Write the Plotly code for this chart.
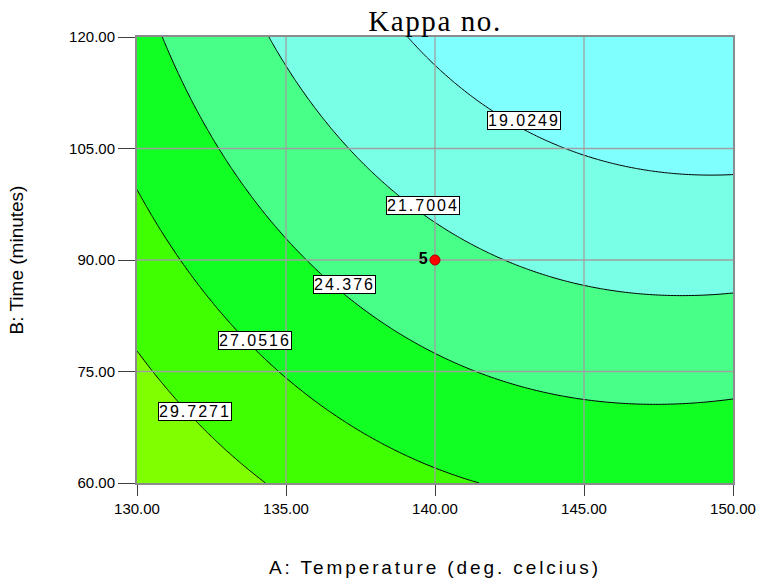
import numpy as np
import plotly.graph_objects as go

# Quadratic response-surface model for Kappa number, in coded units
#   a = (Temperature - 140) / 10,  b = (Time - 90) / 30
b0 = 22.4259
b_a = -3.6115
b_b = -4.4099
b_ab = -0.7661
b_aa = 2.1068
b_bb = 0.5902

contour_levels = [19.0249, 21.7004, 24.376, 27.0516, 29.7271]
# where each contour value is printed (temperature, time)
label_temp = [142.99, 139.61, 136.96, 133.96, 131.95]
label_time = [108.83, 97.32, 86.69, 79.22, 69.66]

design_temp = [140.0]
design_time = [90.0]
design_runs = ["5"]

x_ticks = [130, 135, 140, 145, 150]
y_ticks = [60, 75, 90, 105, 120]

band_colors = ['#80FFFF', '#78FFE6', '#48FF88', '#12FF24', '#40FF00', '#80FF00']

temp = np.linspace(x_ticks[0], x_ticks[-1], 201)
time = np.linspace(y_ticks[0], y_ticks[-1], 201)
TT, MM = np.meshgrid(temp, time)
a = (TT - 140) / 10
b = (MM - 90) / 30
kappa = b0 + b_a * a + b_b * b + b_ab * a * b + b_aa * a * a + b_bb * b * b

step = contour_levels[1] - contour_levels[0]

fig = go.Figure()
fig.add_trace(go.Contour(
    x=temp, y=time, z=kappa,
    contours=dict(start=contour_levels[0], end=contour_levels[-1], size=step, coloring='fill'),
    colorscale=[[i / (len(band_colors) - 1), c] for i, c in enumerate(band_colors)],
    line=dict(color='black', width=1),
    showscale=False,
    hoverinfo='skip',
))

# grid drawn over the filled bands
gx, gy = [], []
for t in x_ticks[1:-1]:
    gx += [t, t, None]
    gy += [y_ticks[0], y_ticks[-1], None]
for t in y_ticks[1:-1]:
    gx += [x_ticks[0], x_ticks[-1], None]
    gy += [t, t, None]
fig.add_trace(go.Scatter(x=gx, y=gy, mode='lines', line=dict(color='#A0A0A0', width=1.3),
                         hoverinfo='skip', showlegend=False))

fig.add_trace(go.Scatter(
    x=design_temp, y=design_time, mode='markers+text', text=[f'<b>{r}</b>' for r in design_runs],
    textposition='middle left',
    textfont=dict(family='Liberation Sans, Arial', size=16, color='black'),
    marker=dict(color='#FF0000', size=10, line=dict(color='#A00000', width=1)),
    showlegend=False,
))

for lv, lx, ly in zip(contour_levels, label_temp, label_time):
    fig.add_annotation(
        x=lx, y=ly, xref='x', yref='y', showarrow=False,
        text=f'<span style="letter-spacing:2px">{lv:g}</span>',
        font=dict(family='Liberation Sans, Arial', size=16, color='black'),
        bgcolor='white', bordercolor='black', borderwidth=1, borderpad=0,
    )

axis_font = dict(family='Liberation Sans, Arial', size=15, color='black')
fig.update_xaxes(
    range=[x_ticks[0], x_ticks[-1]], tickvals=x_ticks, ticktext=[f'{t:.2f}' for t in x_ticks],
    ticks='outside', ticklen=11, tickwidth=1, tickcolor='#404040', tickfont=axis_font,
    showgrid=False, zeroline=False, showline=True, linecolor='#8C8C8C', linewidth=2, mirror=True,
    automargin=False,
    title=dict(text='<span style="letter-spacing:2.9px">A: Temperature (deg. celcius)</span>',
               font=dict(family='Liberation Sans, Arial', size=19, color='black'), standoff=45),
)
fig.update_yaxes(
    range=[y_ticks[0], y_ticks[-1]], tickvals=y_ticks, ticktext=[f'{t:.2f}' for t in y_ticks],
    ticks='outside', ticklen=17, tickwidth=1, tickcolor='#404040', tickfont=axis_font,
    showgrid=False, zeroline=False, showline=True, linecolor='#8C8C8C', linewidth=2, mirror=True,
    automargin=False,
    title=dict(text='B: Time (minutes)',
               font=dict(family='Liberation Sans, Arial', size=19, color='black'), standoff=40),
)
fig.update_layout(
    width=762, height=579,
    margin=dict(l=137, r=29, t=37, b=96),
    paper_bgcolor='white', plot_bgcolor='white',
    showlegend=False,
    title=dict(text='<span style="letter-spacing:1.6px">Kappa no.</span>',
               font=dict(family='Liberation Serif, Times New Roman', size=29, color='black'),
               x=0.5, xref='paper', xanchor='center', y=1, yref='paper', yanchor='bottom',
               pad=dict(b=6)),
)
fig.write_html("out.html")
